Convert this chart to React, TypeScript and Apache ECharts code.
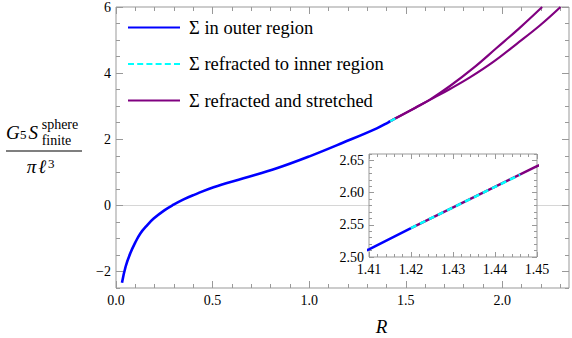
import React, { useEffect, useRef } from "react";
import * as echarts from "echarts";

// ---- data ----
const blueR = [0.031, 0.05, 0.074, 0.1, 0.126, 0.16, 0.195, 0.25, 0.298, 0.35, 0.401, 0.505, 0.66, 0.832, 1.005, 1.177, 1.35, 1.41, 1.42];
const blueV = [-2.34, -1.85, -1.45, -1.12, -0.85, -0.61, -0.4, -0.15, 0.02, 0.18, 0.31, 0.55, 0.82, 1.12, 1.49, 1.9, 2.33, 2.512, 2.545];

const cyanR = [1.42, 1.446];
const cyanV = [2.545, 2.628];

const upperR = [1.42, 1.45, 1.55, 1.625, 1.729, 1.849, 1.97, 2.09, 2.206];
const upperV = [2.545, 2.641, 2.955, 3.2, 3.61, 4.15, 4.76, 5.37, 6.0];

const lowerR = [1.42, 1.45, 1.55, 1.625, 1.729, 1.832, 1.953, 2.073, 2.194, 2.301];
const lowerV = [2.545, 2.641, 2.955, 3.19, 3.52, 3.87, 4.34, 4.88, 5.44, 6.0];

const names = ["Σ in outer region", "Σ refracted to inner region", "Σ refracted and stretched"];

// tick labels
const mainXMajor = [0, 0.5, 1, 1.5, 2];
const mainYMajor = [-2, 0, 2, 4, 6];
const insetXMajor = [1.41, 1.42, 1.43, 1.44, 1.45];
const insetYMajor = [2.5, 2.55, 2.6, 2.65];

function steps(a: number, b: number, s: number) {
  const out: number[] = [];
  const n = Math.round((b - a) / s);
  for (let i = 0; i <= n; i++) out.push(+(a + i * s).toFixed(6));
  return out;
}
const mainXMinor = steps(0, 2.3, 0.1);
const mainYMinor = steps(-2.5, 6, 0.5);
const insetXMinor = steps(1.41, 1.45, 0.002);
const insetYMinor = steps(2.5, 2.66, 0.01);

const zip = (r: number[], v: number[]) => r.map((x, i) => [x, v[i]]);

const FONT = "Liberation Serif";
const GRAY = "#999999";
const BLUE = "#0000ff";
const CYAN = "#00ffff";
const PURPLE = "#800080";

const SOLID_ICON = "path://M0,0h52v2h-52z";
const DASH_ICON = "path://M0,0h6v2h-6z M9.2,0h6v2h-6z M18.4,0h6v2h-6z M27.6,0h6v2h-6z M36.8,0h6v2h-6z M46,0h6v2h-6z";

function axis(
  grid: number,
  pos: string,
  min: number,
  max: number,
  ticks: number[],
  len: number,
  labels: number[] | null,
  fmt: ((v: number) => string) | null,
  z: number
) {
  return {
    type: "value",
    gridIndex: grid,
    position: pos,
    min,
    max,
    z,
    axisLine: { show: false, onZero: false },
    splitLine: { show: false },
    axisTick: { show: true, inside: true, length: len, customValues: ticks, lineStyle: { color: GRAY, width: 1 } },
    axisLabel: labels
      ? { show: true, customValues: labels, formatter: fmt, margin: 5, color: "#000", fontFamily: FONT, fontSize: 14 }
      : { show: false },
  };
}

const fmtX = (v: number) => v.toFixed(1);
const fmtY = (v: number) => (v < 0 ? "\u2212" + Math.abs(v) : String(v));
const fmt2 = (v: number) => v.toFixed(2);

function lineSeries(name: string, data: number[][], color: string, width: number, xi: number, yi: number, z: number, smooth: any, dashed = false, extra: any = {}) {
  return {
    type: "line",
    name,
    data,
    xAxisIndex: xi,
    yAxisIndex: yi,
    symbol: "none",
    showSymbol: false,
    smooth,
    z,
    lineStyle: { color, width, type: dashed ? [6, 4] : "solid" },
    itemStyle: { color },
    ...extra,
  };
}

function txt(text: string, x: number, y: number, size: number, italic: boolean, align = "left") {
  return {
    type: "text",
    x,
    y,
    style: { text, fontFamily: FONT, fontStyle: italic ? "italic" : "normal", fontSize: size, fill: "#000", align, verticalAlign: "middle" },
  };
}

export default function App() {
  const ref = useRef<HTMLDivElement>(null);
  useEffect(() => {
    document.body.style.margin = "0";
    const chart = echarts.init(ref.current!, null, { renderer: "svg" });
    const XMAX = 2.345;
    const option: any = {
      animation: false,
      backgroundColor: "#fff",
      textStyle: { fontFamily: FONT },
      grid: [
        { left: 116, top: 7, width: 453, height: 281, show: true, borderColor: GRAY, borderWidth: 1, backgroundColor: "transparent", z: 0 },
        { left: 369, top: 154, width: 168, height: 103, show: true, borderColor: GRAY, borderWidth: 1, backgroundColor: "#fff", z: 10 },
      ],
      legend: {
        data: [
          { name: names[0], icon: SOLID_ICON },
          { name: names[1], icon: DASH_ICON },
          { name: names[2], icon: SOLID_ICON },
        ],
        orient: "vertical",
        left: 128,
        top: 18,
        padding: 0,
        itemWidth: 52,
        itemHeight: 2.5,
        itemGap: 17.5,
        textStyle: { fontFamily: FONT, fontSize: 18.5, color: "#000", lineHeight: 18, padding: [0, 0, 0, 4] },
        selectedMode: false,
      },
      xAxis: [
        axis(0, "bottom", 0, XMAX, mainXMajor, 7, mainXMajor, fmtX, 1),
        axis(0, "bottom", 0, XMAX, mainXMinor, 4, null, null, 1),
        axis(0, "top", 0, XMAX, mainXMajor, 7, null, null, 1),
        axis(0, "top", 0, XMAX, mainXMinor, 4, null, null, 1),
        axis(1, "bottom", 1.41, 1.45, insetXMajor, 5, insetXMajor, fmt2, 11),
        axis(1, "bottom", 1.41, 1.45, insetXMinor, 3, null, null, 11),
        axis(1, "top", 1.41, 1.45, insetXMajor, 5, null, null, 11),
        axis(1, "top", 1.41, 1.45, insetXMinor, 3, null, null, 11),
      ],
      yAxis: [
        axis(0, "left", -2.5, 6, mainYMajor, 7, mainYMajor, fmtY, 1),
        axis(0, "left", -2.5, 6, mainYMinor, 4, null, null, 1),
        axis(0, "right", -2.5, 6, mainYMajor, 7, null, null, 1),
        axis(0, "right", -2.5, 6, mainYMinor, 4, null, null, 1),
        axis(1, "left", 2.5, 2.66, insetYMajor, 5, insetYMajor, fmt2, 11),
        axis(1, "left", 2.5, 2.66, insetYMinor, 3, null, null, 11),
        axis(1, "right", 2.5, 2.66, insetYMajor, 5, null, null, 11),
        axis(1, "right", 2.5, 2.66, insetYMinor, 3, null, null, 11),
      ],
      series: [
        lineSeries(names[0], zip(blueR, blueV), BLUE, 2.6, 0, 0, 2, 0.4, false, {
          markLine: {
            z: 1,
            silent: true,
            symbol: "none",
            label: { show: false },
            lineStyle: { color: "#d6d6d6", width: 1, type: "solid" },
            emphasis: { disabled: true },
            data: [{ yAxis: 0 }],
          },
        }),
        lineSeries(names[2], zip(upperR, upperV), PURPLE, 2.2, 0, 0, 2, 0.4),
        lineSeries(names[2], zip(lowerR, lowerV), PURPLE, 2.2, 0, 0, 2, 0.4),
        lineSeries(names[1], zip(cyanR, cyanV), CYAN, 2.2, 0, 0, 3, false, true),
        lineSeries(names[0], zip(blueR, blueV), BLUE, 2.5, 4, 4, 12, false),
        lineSeries(names[2], zip(upperR, upperV), PURPLE, 2.5, 4, 4, 12, false),
        lineSeries(names[1], zip(cyanR, cyanV), CYAN, 2.5, 4, 4, 13, false, true),
      ],
      graphic: [
        txt("G", 6, 132.6, 19, true),
        txt("5", 20, 134.7, 13, false),
        txt("S", 28.5, 132.6, 19, true),
        txt("sphere", 41.7, 124.4, 14, false),
        txt("finite", 41.7, 140.5, 14, false),
        { type: "line", shape: { x1: 6, y1: 151, x2: 82, y2: 151 }, style: { stroke: "#555", lineWidth: 1.3 } },
        txt("π", 26.7, 166.6, 19, true),
        txt("ℓ", 38.3, 166.6, 19, true),
        txt("3", 48, 163.8, 13, false),
        txt("R", 381.5, 326.5, 19, true, "center"),
      ],
    };
    chart.setOption(option);
    return () => chart.dispose();
  }, []);
  return <div ref={ref} style={{ position: "absolute", left: 0, top: 0, width: 572, height: 338 }} />;
}
